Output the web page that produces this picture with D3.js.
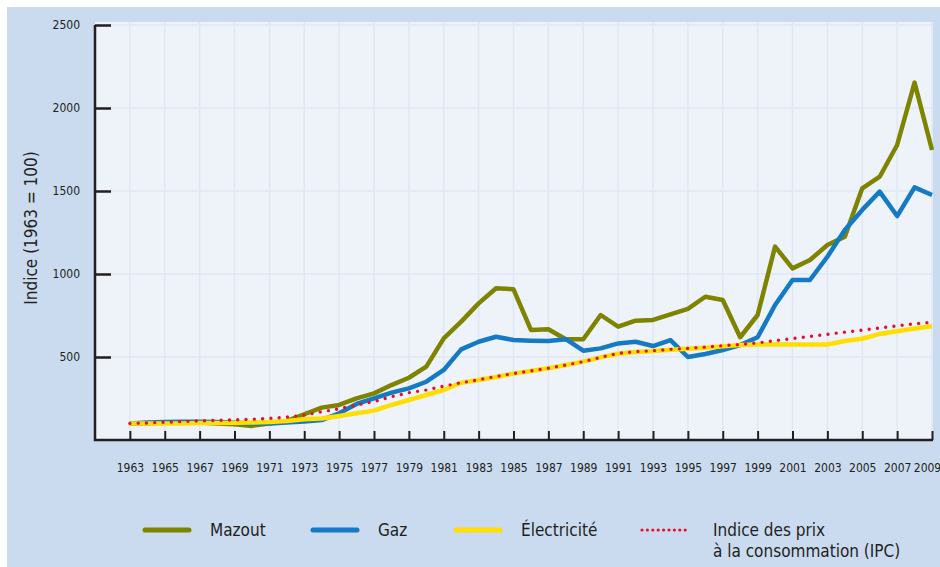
<!DOCTYPE html>
<html>
<head>
<meta charset="utf-8">
<script src="https://cdn.jsdelivr.net/npm/d3@7"></script>
<style>
  html, body { margin: 0; padding: 0; background: #fff; }
  svg { display: block; }
  text { font-family: "Liberation Sans Narrow", "DejaVu Sans Condensed", sans-serif; fill: #231f20; }
</style>
</head>
<body>
<div id="chart"></div>
<script>
const years = [1963, 1964, 1965, 1966, 1967, 1968, 1969, 1970, 1971, 1972,
  1973, 1974, 1975, 1976, 1977, 1978, 1979, 1980, 1981, 1982,
  1983, 1984, 1985, 1986, 1987, 1988, 1989, 1990, 1991, 1992,
  1993, 1994, 1995, 1996, 1997, 1998, 1999, 2000, 2001, 2002,
  2003, 2004, 2005, 2006, 2007, 2008, 2009]

const mazout = [100, 100, 105, 105, 105, 100, 95, 85, 100, 115,
  155, 195, 211, 251, 281, 331, 375, 442, 612, 713,
  823, 914, 908, 663, 667, 607, 607, 753, 683, 719,
  723, 757, 790, 863, 843, 619, 753, 1165, 1034, 1084,
  1175, 1225, 1516, 1586, 1777, 2153, 1747]

const gaz = [100, 105, 108, 110, 110, 108, 105, 100, 100, 105,
  112, 120, 161, 217, 251, 285, 311, 351, 422, 546,
  592, 622, 602, 598, 596, 607, 538, 552, 582, 592,
  566, 602, 500, 518, 542, 572, 619, 813, 964, 964,
  1104, 1265, 1386, 1496, 1349, 1522, 1476]

const electricite = [100, 100, 100, 100, 102, 103, 104, 105, 108, 115,
  125, 130, 145, 161, 177, 211, 241, 271, 301, 345,
  361, 380, 400, 416, 432, 452, 472, 498, 520, 530,
  536, 544, 550, 556, 564, 572, 575, 576, 576, 575,
  575, 596, 610, 639, 655, 672, 685]

const ipc = [100, 103, 107, 111, 115, 118, 121, 125, 130, 138,
  150, 170, 188, 211, 231, 261, 285, 301, 325, 345,
  363, 383, 400, 416, 432, 452, 472, 498, 522, 532,
  538, 546, 552, 560, 568, 575, 585, 598, 611, 624,
  637, 650, 662, 675, 688, 700, 710]

const xTicks = [1963, 1965, 1967, 1969, 1971, 1973, 1975, 1977, 1979, 1981,
  1983, 1985, 1987, 1989, 1991, 1993, 1995, 1997, 1999, 2001,
  2003, 2005, 2007, 2009]
const yTicks = [500, 1000, 1500, 2000, 2500]

const seriesNames = ["Mazout", "Gaz", "Électricité", "Indice des prix|à la consommation (IPC)"]
const yTitle = "Indice (1963 = 100)"

const width = 940
const height = 567

const svg = d3.select("#chart").append("svg")
  .attr("width", width)
  .attr("height", height)

// outer panel
svg.append("rect")
  .attr("x", 7).attr("y", 7)
  .attr("width", width - 7).attr("height", height - 7)
  .attr("fill", "#cadbef")

const x = d3.scaleLinear().domain([1961, 2009]).range([95, 932])
const y = d3.scaleLinear().domain([0, 2500]).range([440, 25])

// plot background
svg.append("rect")
  .attr("x", x(1961)).attr("y", y(2500) - 3)
  .attr("width", 933 - x(1961)).attr("height", y(0) - y(2500) + 3)
  .attr("fill", "#eef3f9")

// grid
const grid = svg.append("g").attr("stroke", "#dfe7f4").attr("stroke-width", 1.5)
grid.selectAll(".v").data(xTicks).join("line")
  .attr("x1", d => x(d)).attr("x2", d => x(d))
  .attr("y1", y(2500) - 3).attr("y2", y(0))
grid.selectAll(".h").data(yTicks).join("line")
  .attr("x1", x(1961)).attr("x2", 933)
  .attr("y1", d => y(d)).attr("y2", d => y(d))

// series
const series = [
  { name: "mazout", values: mazout, color: "#7f8400", width: 4.5 },
  { name: "gaz", values: gaz, color: "#137ac3", width: 4.5 },
  { name: "electricite", values: electricite, color: "#ffde00", width: 4.5 }
]

const line = d3.line()
  .x((d, i) => x(years[i]))
  .y(d => y(d))

svg.append("g").selectAll("path").data(series).join("path")
  .attr("fill", "none")
  .attr("stroke", d => d.color)
  .attr("stroke-width", d => d.width)
  .attr("stroke-linejoin", "round")
  .attr("d", d => line(d.values))

svg.append("path")
  .attr("fill", "none")
  .attr("stroke", "#e3102b")
  .attr("stroke-width", 3.4)
  .attr("stroke-linecap", "round")
  .attr("stroke-dasharray", "0 8.3")
  .attr("d", line(ipc))

// axes
const xAxis = svg.append("g")
  .attr("transform", "translate(0," + y(0) + ")")
  .call(d3.axisBottom(x).tickValues(xTicks).tickSize(-9).tickSizeOuter(0).tickFormat(d3.format("d")))
xAxis.select(".domain").remove()
xAxis.selectAll(".tick line").attr("stroke", "#231f20").attr("stroke-width", 2)
xAxis.selectAll(".tick text")
  .attr("y", 28)
  .attr("dy", "0.32em")
  .style("font-size", "12px")
// last label sits against the right edge
xAxis.selectAll(".tick text").filter(d => d === 2009)
  .attr("x", -5)

const yAxis = svg.append("g")
  .attr("transform", "translate(" + x(1961) + ",0)")
  .call(d3.axisLeft(y).tickValues(yTicks).tickSize(-16).tickSizeOuter(0).tickFormat(d3.format("d")))
yAxis.select(".domain").remove()
yAxis.selectAll(".tick line").attr("stroke", "#231f20").attr("stroke-width", 2.5)
yAxis.selectAll(".tick text")
  .attr("x", -15)
  .style("font-size", "12px")

// axis lines
svg.append("path")
  .attr("fill", "none")
  .attr("stroke", "#231f20")
  .attr("stroke-width", 2.5)
  .attr("d", "M" + x(1961) + "," + y(2500) + "V" + y(0) + "H" + (x(2009) + 1))

svg.append("text")
  .attr("transform", "translate(37,228) rotate(-90)")
  .attr("text-anchor", "middle")
  .style("font-size", "17px")
  .text(yTitle)

// legend
const legendX = [143, 311, 454, 640]
const legendColors = ["#7f8400", "#137ac3", "#ffde00", "#e3102b"]
const legend = svg.append("g")
seriesNames.forEach((name, i) => {
  const g = legend.append("g").attr("transform", "translate(" + legendX[i] + ",530)")
  if (i < 3) {
    g.append("line")
      .attr("x1", 2).attr("x2", 46)
      .attr("stroke", legendColors[i])
      .attr("stroke-width", 5)
      .attr("stroke-linecap", "round")
  } else {
    g.append("line")
      .attr("x1", 2).attr("x2", 50)
      .attr("stroke", legendColors[i])
      .attr("stroke-width", 3.2)
      .attr("stroke-linecap", "round")
      .attr("stroke-dasharray", "0 5.4")
  }
  const tx = i < 3 ? 67 : 73
  const t = g.append("text")
    .attr("y", 0)
    .style("font-size", "17px")
  name.split("|").forEach((s, j) => {
    t.append("tspan").attr("x", tx).attr("dy", j === 0 ? "0.35em" : "1.25em").text(s)
  })
})
</script>
</body>
</html>
